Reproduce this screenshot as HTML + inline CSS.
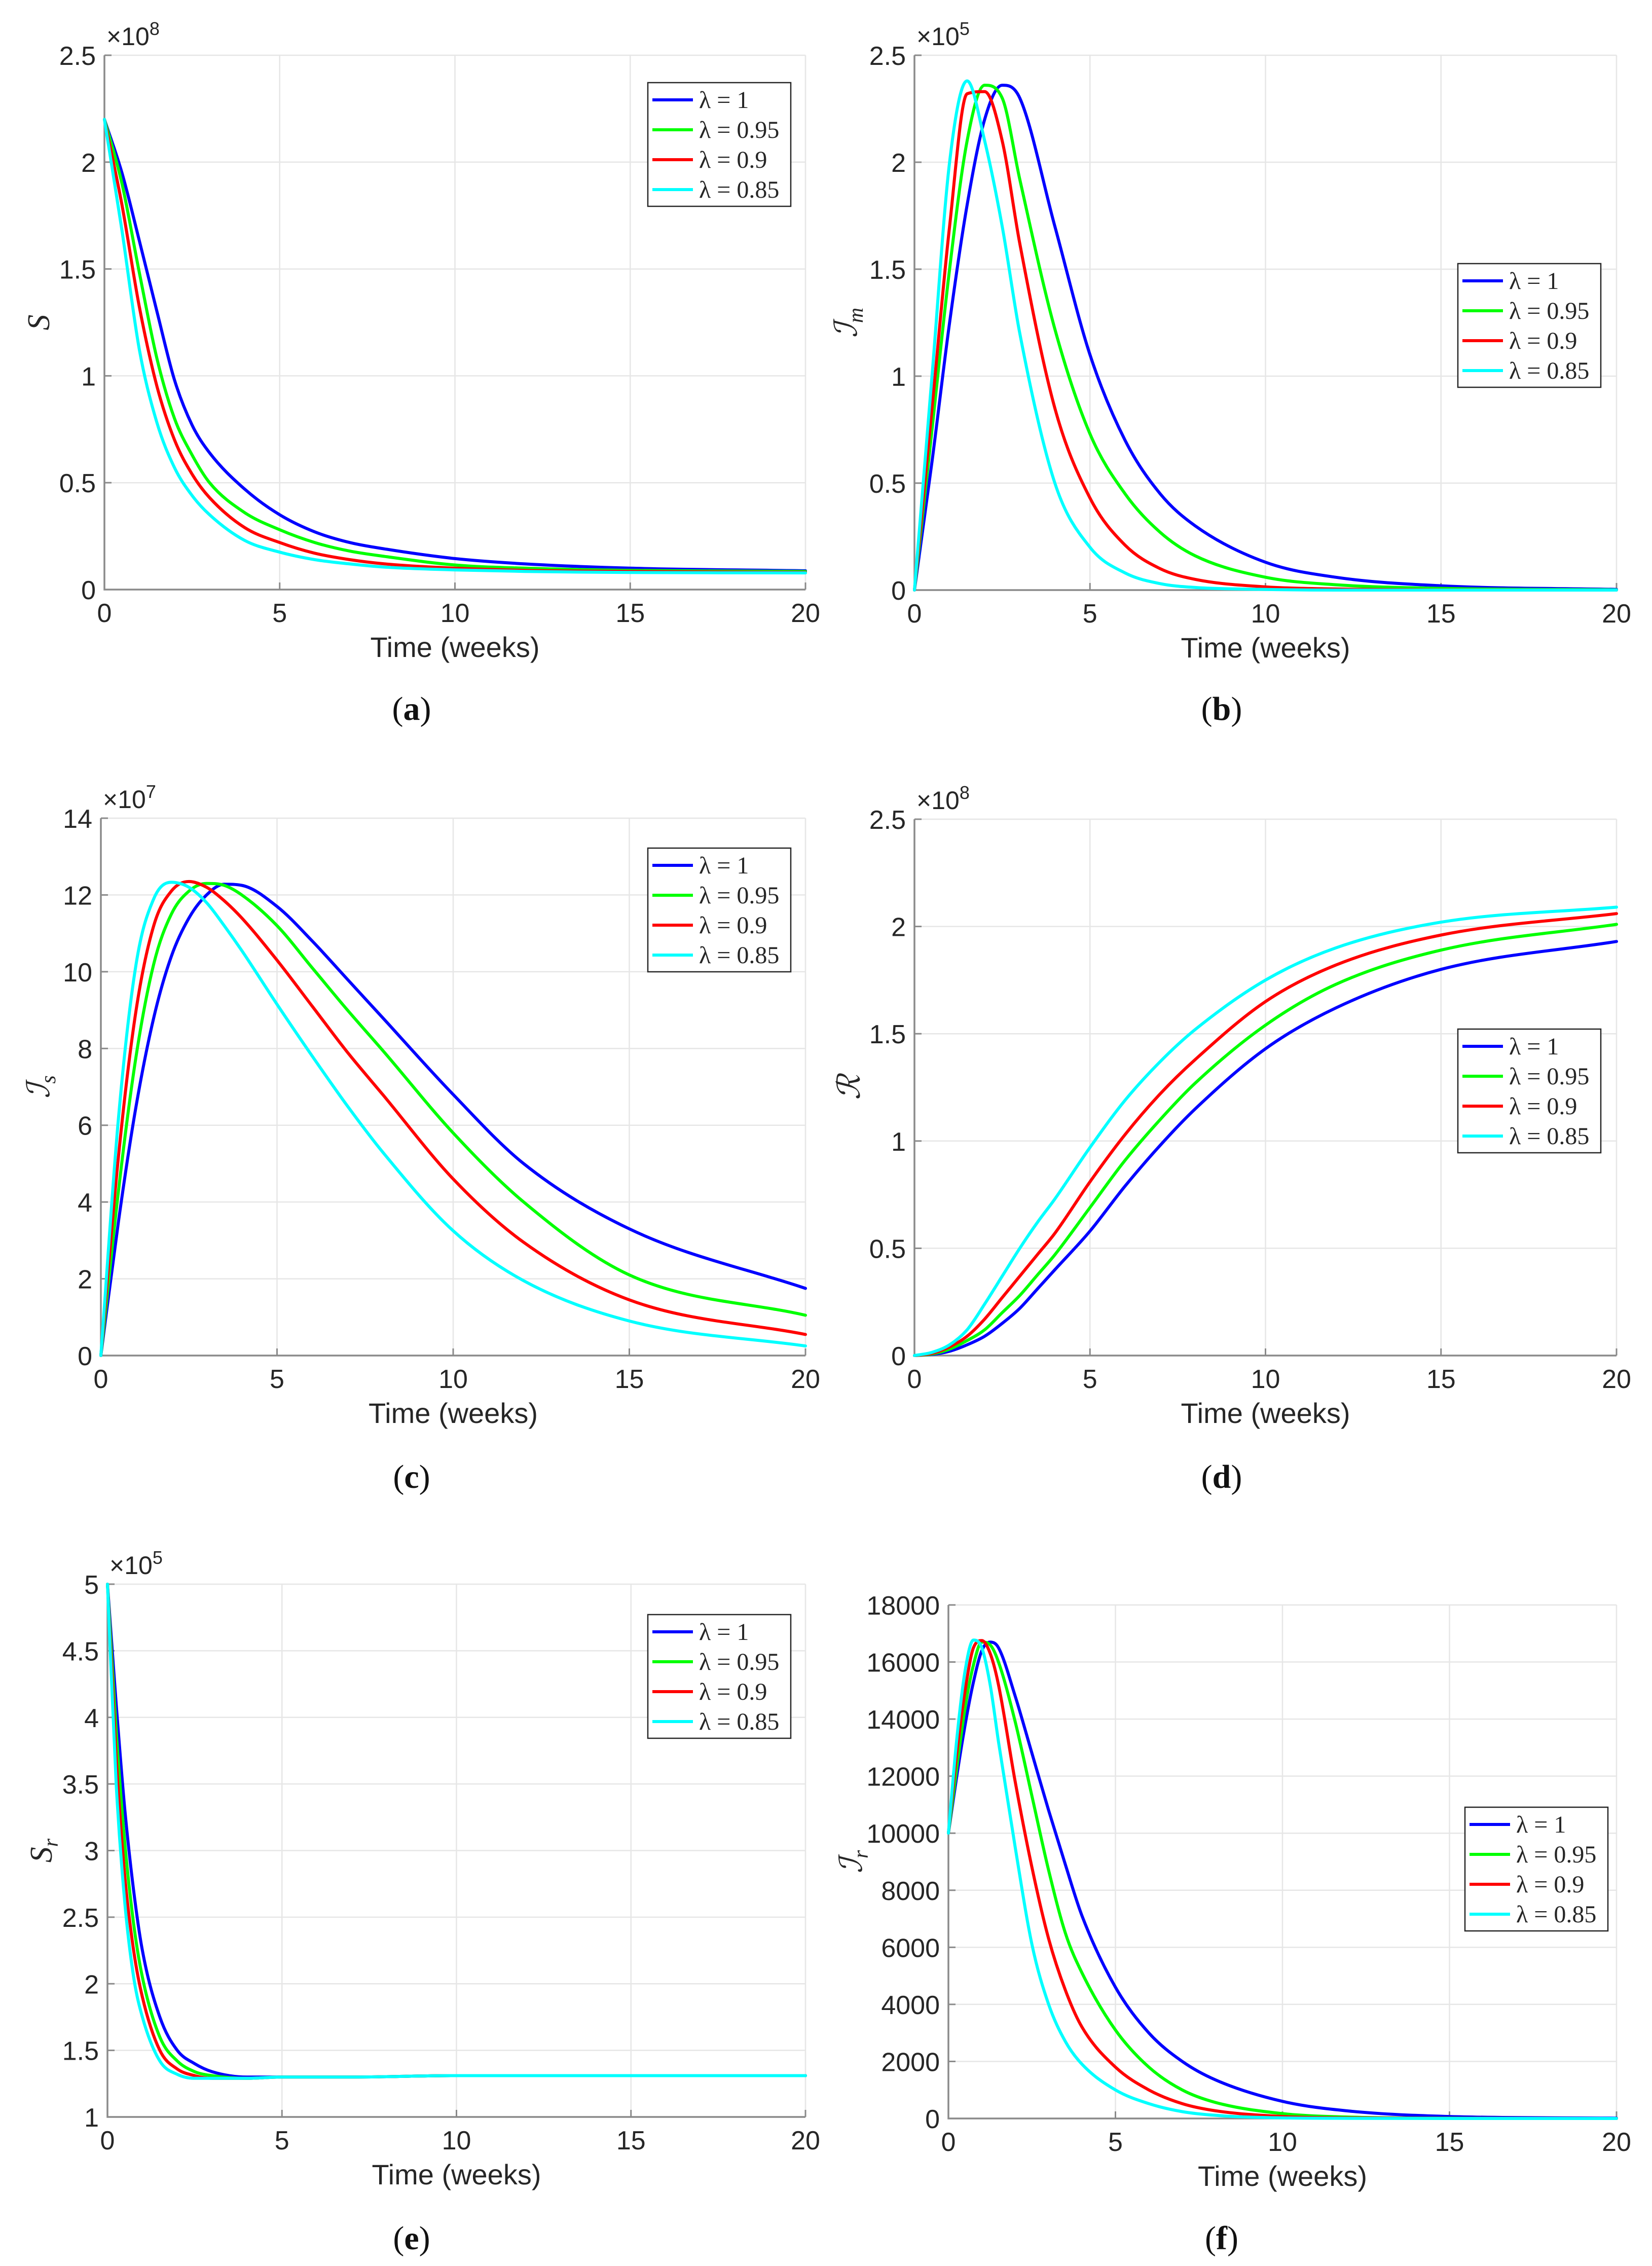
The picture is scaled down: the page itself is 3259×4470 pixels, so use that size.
<!DOCTYPE html>
<html><head><meta charset="utf-8"><title>Fractional model simulations</title>
<style>html,body{margin:0;padding:0;background:#fff}svg{display:block}</style></head>
<body>
<svg id="fig" xmlns="http://www.w3.org/2000/svg" width="3259" height="4470" viewBox="0 0 3259 4470"></svg>
<script>
// ---------- data ----------
const xTicks = [0, 5, 10, 15, 20];
const seriesNames = ["\u03bb = 1", "\u03bb = 0.95", "\u03bb = 0.9", "\u03bb = 0.85"];
const seriesColors = ["#0000ff", "#00ff00", "#ff0000", "#00ffff"];

// (a) S, x1e8
const timesA = [0,0.5,1,1.5,2,2.5,3,4,5,6,7,8,10,12,15,20];
const aBlue  = [2.2,1.95,1.63,1.3,0.98,0.77,0.64,0.47,0.35,0.27,0.22,0.19,0.145,0.12,0.1,0.088];
const aGreen = [2.2,1.9,1.48,1.08,0.8,0.63,0.5,0.36,0.28,0.22,0.18,0.155,0.115,0.1,0.09,0.085];
const aRed   = [2.2,1.8,1.32,0.95,0.7,0.54,0.43,0.29,0.22,0.17,0.14,0.12,0.1,0.09,0.085,0.08];
const aCyan  = [2.2,1.68,1.12,0.78,0.57,0.44,0.35,0.23,0.175,0.14,0.12,0.105,0.092,0.085,0.08,0.078];
const aYTicks = [0,0.5,1,1.5,2,2.5];

// (b) Im, x1e5
const timesB = [0,0.5,1,1.5,2,2.5,3,4,5,6,7,8,10,12,15,20];
const bBlue  = [0,0.6,1.25,1.8,2.2,2.36,2.3,1.7,1.1,0.7,0.45,0.3,0.13,0.06,0.02,0.003];
const bGreen = [0,0.75,1.5,2.1,2.36,2.3,1.92,1.22,0.73,0.45,0.27,0.16,0.06,0.025,0.008,0.001];
const bRed   = [0,0.85,1.7,2.32,2.33,2.1,1.62,0.85,0.43,0.21,0.1,0.05,0.015,0.005,0.001,0];
const bCyan  = [0,1.0,2.0,2.38,2.1,1.7,1.2,0.5,0.2,0.08,0.03,0.012,0.003,0,0,0];
const bYTicks = [0,0.5,1,1.5,2,2.5];

// (c) Is, x1e7
const timesC = [0,0.5,1,1.5,2,2.5,3,3.5,4,5,6,7,8,10,12,15,20];
const cBlue  = [0,3.5,6.5,8.8,10.4,11.4,12.0,12.28,12.25,11.7,10.8,9.8,8.8,6.8,5.0,3.3,1.75];
const cGreen = [0,4.3,7.8,10.2,11.5,12.1,12.3,12.25,12.0,11.2,10.1,9.0,7.95,5.8,4.0,2.1,1.05];
const cRed   = [0,5.2,9.0,11.2,12.1,12.35,12.2,11.85,11.4,10.3,9.1,7.9,6.8,4.6,2.95,1.45,0.55];
const cCyan  = [0,6.2,10.2,11.9,12.33,12.2,11.8,11.2,10.55,9.15,7.8,6.5,5.3,3.25,1.95,0.9,0.25];
const cYTicks = [0,2,4,6,8,10,12,14];

// (d) R, x1e8
const timesD = [0,0.5,1,1.5,2,2.5,3,3.5,4,5,6,7,8,10,12,15,20];
const dBlue  = [0,0.005,0.02,0.05,0.09,0.15,0.22,0.31,0.4,0.58,0.79,0.98,1.15,1.43,1.62,1.8,1.93];
const dGreen = [0,0.007,0.03,0.07,0.12,0.2,0.28,0.375,0.47,0.69,0.91,1.1,1.27,1.54,1.73,1.89,2.01];
const dRed   = [0,0.01,0.04,0.09,0.17,0.27,0.37,0.47,0.57,0.81,1.03,1.22,1.38,1.65,1.82,1.96,2.06];
const dCyan  = [0,0.015,0.05,0.12,0.24,0.37,0.5,0.62,0.73,0.97,1.19,1.37,1.52,1.75,1.9,2.02,2.09];
const dYTicks = [0,0.5,1,1.5,2,2.5];

// (e) Sr, x1e5
const timesE = [0,0.25,0.5,0.75,1,1.5,2,2.5,3,4,5,7,10,15,20];
const eBlue  = [5,4.1,3.3,2.7,2.25,1.75,1.5,1.4,1.34,1.3,1.3,1.3,1.31,1.31,1.31];
const eGreen = [5,3.9,3.05,2.45,2.05,1.6,1.42,1.34,1.31,1.29,1.3,1.3,1.31,1.31,1.31];
const eRed   = [5,3.7,2.8,2.25,1.9,1.5,1.36,1.31,1.29,1.29,1.3,1.3,1.31,1.31,1.31];
const eCyan  = [5,3.5,2.6,2.05,1.75,1.42,1.32,1.29,1.29,1.29,1.3,1.3,1.31,1.31,1.31];
const eYTicks = [1,1.5,2,2.5,3,3.5,4,4.5,5];

// (f) Ir
const timesF = [0,0.25,0.5,0.75,1,1.25,1.5,2,2.5,3,3.5,4,5,6,7,8,10,12,15,20];
const fBlue  = [10000,12000,13800,15300,16400,16700,16500,14800,12800,10800,8900,7100,4600,3000,2000,1350,600,260,70,10];
const fGreen = [10000,12300,14400,15900,16700,16600,16000,13900,11300,8700,6500,5100,3100,1800,1000,560,170,50,10,0];
const fRed   = [10000,12800,15000,16500,16750,16300,15200,11800,8800,6300,4500,3200,1800,1000,520,270,70,20,5,0];
const fCyan  = [10000,13300,15700,16770,16500,15200,13200,9500,6100,4000,2700,1900,1000,520,240,110,20,5,0,0];
const fYTicks = [0,2000,4000,6000,8000,10000,12000,14000,16000,18000];

// ---------- layout ----------
const NS = "http://www.w3.org/2000/svg";
const svg = document.getElementById("fig");
function mk(tag, attrs, parent) {
  const e = document.createElementNS(NS, tag);
  for (const k in attrs) e.setAttribute(k, attrs[k]);
  (parent || svg).appendChild(e);
  return e;
}

const panels = [
  {id:"a", L:206, R:1589, T:109, B:1163, ymin:0, ymax:2.5, yt:aYTicks, exp:"8", times:timesA, s:[aBlue,aGreen,aRed,aCyan], ylab:"S", sub:"", ylx:77, leg:[1278,163], lab:[812,1420]},
  {id:"b", L:1804, R:3189, T:109, B:1164, ymin:0, ymax:2.5, yt:bYTicks, exp:"5", times:timesB, s:[bBlue,bGreen,bRed,bCyan], ylab:"\u2110", sub:"m", ylx:1670, leg:[2876,520], lab:[2410,1420]},
  {id:"c", L:199, R:1589, T:1614, B:2674, ymin:0, ymax:14, yt:cYTicks, exp:"7", times:timesC, s:[cBlue,cGreen,cRed,cCyan], ylab:"\u2110", sub:"s", ylx:77, leg:[1278,1673], lab:[812,2935]},
  {id:"d", L:1804, R:3189, T:1616, B:2674, ymin:0, ymax:2.5, yt:dYTicks, exp:"8", times:timesD, s:[dBlue,dGreen,dRed,dCyan], ylab:"\u211b", sub:"", ylx:1676, leg:[2876,2030], lab:[2410,2935]},
  {id:"e", L:212, R:1589, T:3125, B:4176, ymin:1, ymax:5, yt:eYTicks, exp:"5", times:timesE, s:[eBlue,eGreen,eRed,eCyan], ylab:"S", sub:"r", ylx:82, leg:[1278,3185], lab:[812,4437]},
  {id:"f", L:1871, R:3189, T:3166, B:4179, ymin:0, ymax:18000, yt:fYTicks, exp:null, times:timesF, s:[fBlue,fGreen,fRed,fCyan], ylab:"\u2110", sub:"r", ylx:1680, leg:[2890,3565], lab:[2410,4437]}
];

function monotonePath(xs, ys) {
  const n = xs.length, d = [], m = new Array(n);
  for (let i = 0; i < n - 1; i++) d.push((ys[i+1]-ys[i])/(xs[i+1]-xs[i]));
  m[0] = d[0]; m[n-1] = d[n-2];
  for (let i = 1; i < n - 1; i++) m[i] = (d[i-1]*d[i] <= 0) ? 0 : (d[i-1]+d[i])/2;
  for (let i = 0; i < n - 1; i++) {
    if (d[i] === 0) { m[i] = 0; m[i+1] = 0; continue; }
    const a = m[i]/d[i], b = m[i+1]/d[i], h = a*a + b*b;
    if (h > 9) { const t = 3/Math.sqrt(h); m[i] = t*a*d[i]; m[i+1] = t*b*d[i]; }
  }
  let p = "M" + xs[0].toFixed(1) + "," + ys[0].toFixed(1);
  for (let i = 0; i < n - 1; i++) {
    const h = (xs[i+1]-xs[i])/3;
    p += " C" + (xs[i]+h).toFixed(1) + "," + (ys[i]+m[i]*h).toFixed(1) + " " +
         (xs[i+1]-h).toFixed(1) + "," + (ys[i+1]-m[i+1]*h).toFixed(1) + " " +
         xs[i+1].toFixed(1) + "," + ys[i+1].toFixed(1);
  }
  return p;
}

const SANS = '"Liberation Sans", Arial, sans-serif';
const SERIF = '"Liberation Serif", "DejaVu Serif", serif';

panels.forEach(P => {
  const g = mk("g", {});
  
  
  const xs = v => P.L + (v / 20) * (P.R - P.L);
  const ys = v => P.B - (v - P.ymin) / (P.ymax - P.ymin) * (P.B - P.T);

  xTicks.forEach(t => {
    const l = mk("line", {x1:xs(t), x2:xs(t), y1:P.T, y2:P.B, stroke:"#e6e6e6", "stroke-width":2.5}, g);
    
    
  });
  P.yt.forEach(t => {
    const l = mk("line", {x1:P.L, x2:P.R, y1:ys(t), y2:ys(t), stroke:"#e6e6e6", "stroke-width":2.5}, g);
    
    
  });
  const ax = mk("path", {d:`M${P.L},${P.T} L${P.L},${P.B} L${P.R},${P.B}`, fill:"none", stroke:"#8a8a8a", "stroke-width":3.5}, g);
  
  
  xTicks.forEach(t => {
    mk("line", {x1:xs(t), x2:xs(t), y1:P.B, y2:P.B-14, stroke:"#8a8a8a", "stroke-width":3}, g);
    const tx = mk("text", {x:xs(t), y:P.B+64, "text-anchor":"middle", "font-family":SANS, "font-size":52, fill:"#262626"}, g);
    tx.textContent = String(t);
    
    
  });
  P.yt.forEach(t => {
    mk("line", {x1:P.L, x2:P.L+14, y1:ys(t), y2:ys(t), stroke:"#8a8a8a", "stroke-width":3}, g);
    const tx = mk("text", {x:P.L-17, y:ys(t)+19, "text-anchor":"end", "font-family":SANS, "font-size":52, fill:"#262626"}, g);
    tx.textContent = String(t);
    
    
  });
  if (P.exp) {
    const ex = mk("text", {x:P.L+4, y:P.T-20, "font-family":SANS, "font-size":50, fill:"#262626"}, g);
    
    
    ex.appendChild(document.createTextNode("\u00d710"));
    const sp = mk("tspan", {dy:-20, "font-size":36}, ex);
    sp.textContent = P.exp;
  }
  const xt = mk("text", {x:(P.L+P.R)/2, y:P.B+133, "text-anchor":"middle", "font-family":SANS, "font-size":56, fill:"#262626"}, g);
  xt.textContent = "Time (weeks)";
  
  
  const yc = (P.T + P.B) / 2;
  const yl = mk("text", {x:P.ylx, y:yc, "text-anchor":"middle", "font-family":SERIF, "font-style":"italic", "font-size":62, fill:"#262626", transform:`rotate(-90 ${P.ylx} ${yc})`, dy:20}, g);
  
  
  yl.appendChild(document.createTextNode(P.ylab));
  if (P.sub) { const s = mk("tspan", {dy:12, "font-size":42}, yl); s.textContent = P.sub; }

  P.s.forEach((vals, k) => {
    const px = P.times.map(xs), py = vals.map(ys);
    const path = mk("path", {d:monotonePath(px, py), fill:"none", stroke:seriesColors[k], "stroke-width":6, "stroke-linejoin":"round", "stroke-linecap":"round"}, g);
    
    
  });

  const [lx, ly] = P.leg;
  const lg = mk("g", {}, g);
  
  
  mk("rect", {x:lx, y:ly, width:282, height:244, fill:"#fff", stroke:"#262626", "stroke-width":2.5}, lg);
  seriesNames.forEach((nm, k) => {
    const ry = ly + 34 + k * 59;
    const ent = mk("g", {}, lg);
    
    
    mk("line", {x1:lx+9, x2:lx+89, y1:ry, y2:ry, stroke:seriesColors[k], "stroke-width":6}, ent);
    const t = mk("text", {x:lx+101, y:ry+16, "font-family":SERIF, "font-size":48, fill:"#262626"}, ent);
    t.textContent = nm;
  });

  const pl = mk("text", {x:P.lab[0], y:P.lab[1], "text-anchor":"middle", "font-family":SERIF, "font-size":66, fill:"#111"}, g);
  
  
  pl.appendChild(document.createTextNode("("));
  const b = mk("tspan", {"font-weight":"bold"}, pl); b.textContent = P.id;
  pl.appendChild(document.createTextNode(")"));
});
</script>
</body></html>
